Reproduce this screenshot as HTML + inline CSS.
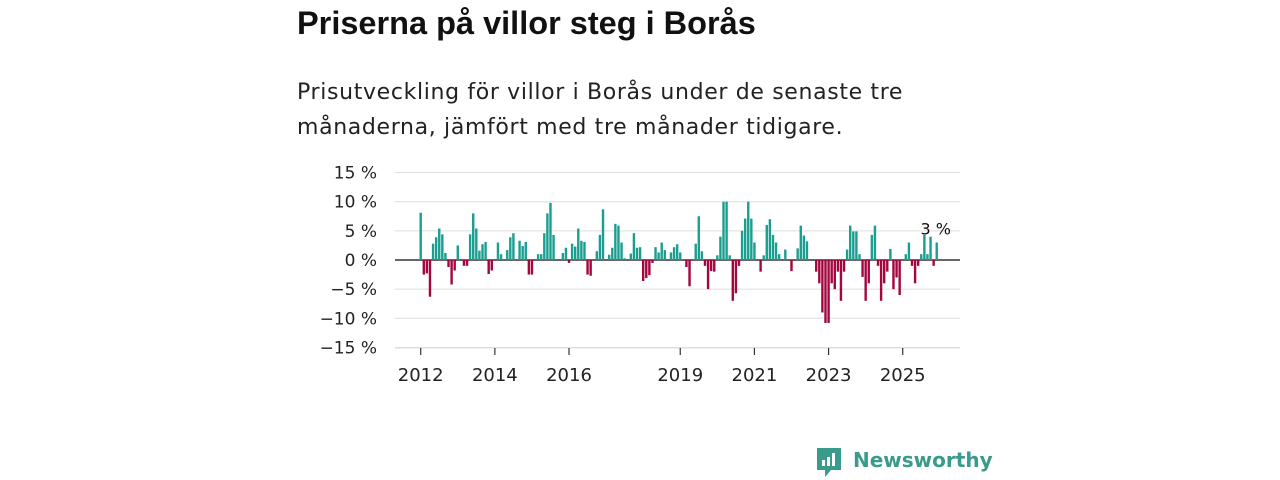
<!DOCTYPE html>
<html><head><meta charset="utf-8"><style>
body{margin:0;width:1280px;height:480px;background:#fff;font-family:"Liberation Sans","DejaVu Sans",sans-serif;overflow:hidden;position:relative}
h1{position:absolute;left:297px;top:5px;margin:0;font-size:32.5px;font-weight:bold;color:#111;white-space:nowrap}
p.sub{position:absolute;left:297px;top:75px;margin:0;font-family:"DejaVu Sans",sans-serif;font-size:22px;letter-spacing:0.65px;line-height:35px;color:#222;white-space:nowrap}
svg{position:absolute;left:0;top:0}
.logo{position:absolute;left:853px;top:448px;font-size:20px;color:#3a9a8c;font-weight:bold;font-family:"DejaVu Sans",sans-serif}
</style></head><body>
<h1>Priserna på villor steg i Borås</h1>
<p class="sub">Prisutveckling för villor i Borås under de senaste tre<br>månaderna, jämfört med tre månader tidigare.</p>
<svg id="chart" width="1280" height="480"></svg>
<svg width="30" height="34" style="left:815px;top:446px"><path d="M2 2h24v22H16l-6 7v-7H2z" fill="#3a9a8c"/><rect x="7" y="14" width="3" height="6" fill="#fff"/><rect x="12" y="11" width="3" height="9" fill="#fff"/><rect x="17" y="7" width="3" height="13" fill="#fff"/></svg>
<div class="logo">Newsworthy</div>
<script>
const values=[8.1,-2.5,-2.3,-6.3,2.8,3.9,5.4,4.4,1.2,-1.2,-4.2,-1.8,2.5,0,-1,-1,4.4,8,5.4,1.6,2.7,3.1,-2.4,-1.8,0,3,1,0,1.7,3.9,4.6,0,3.3,2.4,3.1,-2.5,-2.5,0,1,1,4.6,8,9.8,4.3,0,0,1.2,2.1,-0.5,2.8,2.3,5.4,3.3,3.1,-2.5,-2.7,0,1.5,4.3,8.7,0,0.9,2.1,6.2,5.9,3,0.3,0,1.1,4.6,2.1,2.2,-3.6,-3.1,-2.6,-0.5,2.2,1.3,3,1.7,0,1.3,2.2,2.7,1.3,
0,-1.2,-4.5,0,2.8,7.5,1.5,-1,-5,-1.9,-2,0.8,4,10,10,0.8,-7,-5.7,-1,5,7.1,10,7.1,3,0,-2,0.8,6,7,4.3,3,1,0,1.8,0,-1.9,0,2,5.9,4.2,3.2,0,0,-2,-4,-9,-10.8,-10.8,-4,-5,-2,-7,-2,1.8,5.9,4.9,4.9,1,-2.9,-7,-4,4.3,5.9,-1,-7,-4,-2,1.9,-5,-3,-6,0,1,3,-1,-4,-1,1,4.3,1,4,-1,3];
const yTicks=[15,10,5,0,-5,-10,-15];
const yTickLabels=["15 %","10 %","5 %","0 %","\u22125 %","\u221210 %","\u221215 %"];
const xYears=[2012,2014,2016,2019,2021,2023,2025];
const startYear=2012;
const svg=document.getElementById('chart');
const NS='http://www.w3.org/2000/svg';
const y=v=>260-v*5.83;
const x=i=>420.7+i*3.09;
function el(t,a){const e=document.createElementNS(NS,t);for(const k in a)e.setAttribute(k,a[k]);svg.appendChild(e);return e;}
yTicks.forEach((t,j)=>{
 const g=el('line',{x1:395,x2:960,y1:y(t),y2:y(t),stroke:t===0?'#333':'#ddd','stroke-width':t===0?1.6:1});
 
 
 const tx=el('text',{x:377,y:y(t)+6,'text-anchor':'end','font-size':17,fill:'#222','font-family':'DejaVu Sans, sans-serif'});
 tx.textContent=yTickLabels[j];
 
 
});
const ax=el('line',{x1:395,x2:960,y1:348,y2:348,stroke:'#ddd'});


values.forEach((v,i)=>{
 if(v===0)return;
 const r=el('rect',{x:x(i)-1.2,width:2.4,y:Math.min(y(v),y(0)),height:Math.abs(y(v)-y(0)),fill:v>0?'#1a9e8f':'#a3063f'});
 
 
});
xYears.forEach(yr=>{
 const xi=x((yr-startYear)*12);
 const t=el('line',{x1:xi,x2:xi,y1:348,y2:355,stroke:'#333','stroke-width':1.2});
 
 
 const l=el('text',{x:xi,y:381,'text-anchor':'middle','font-size':18,fill:'#222','font-family':'DejaVu Sans, sans-serif'});
 l.textContent=yr;
 
 
});
const last=values.length-1;
const lab=el('text',{x:x(last)-1,y:y(values[last])-8,'text-anchor':'middle','font-size':16,fill:'#111','font-family':'DejaVu Sans, sans-serif'});
lab.textContent=Math.round(values[last])+' %';


</script>
</body></html>
